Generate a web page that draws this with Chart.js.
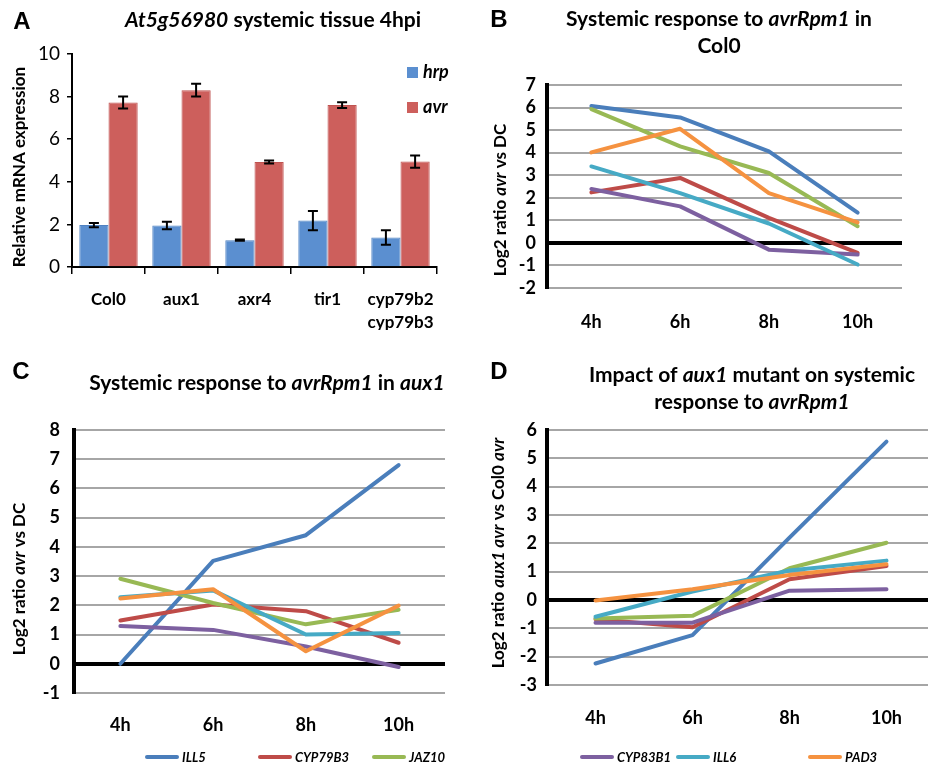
<!DOCTYPE html>
<html>
<head>
<meta charset="utf-8">
<script src="https://cdn.jsdelivr.net/npm/chart.js@4.4.0/dist/chart.umd.min.js"></script>
<style>
body { margin: 0; width: 928px; height: 766px; overflow: hidden; background: #fff; position: relative; }
canvas { position: absolute; }
.item { position: absolute; top: 748px; height: 18px; display: flex; align-items: center; font: italic bold 13px Lato, sans-serif; color: #000; }
.item i { display: inline-block; width: 34px; height: 4px; border-radius: 2px; margin-right: 3px; }
</style>
</head>
<body>
<canvas id="a" width="464" height="330" style="left:0;top:0"></canvas>
<canvas id="b" width="464" height="330" style="left:464px;top:0"></canvas>
<canvas id="c" width="464" height="420" style="left:0;top:330px"></canvas>
<canvas id="d" width="480" height="420" style="left:464px;top:330px"></canvas>
<div id="legend"></div>
<script>
// panel A
const genotypes = ["Col0", "aux1", "axr4", "tir1", ["cyp79b2", "cyp79b3"]];
const hrp = [1.97, 1.95, 1.26, 2.18, 1.39];
const hrpErr = [0.1, 0.18, 0.03, 0.45, 0.34];
const avr = [7.72, 8.3, 4.93, 7.6, 4.95];
const avrErr = [0.28, 0.3, 0.07, 0.13, 0.29];

// panels B-D, rows follow genes order
const times = ["4h", "6h", "8h", "10h"];
const genes = ["ILL5", "CYP79B3", "JAZ10", "CYP83B1", "ILL6", "PAD3"];
const geneColors = ["#4a7ebb", "#be4b48", "#98b954", "#7d60a0", "#46aac5", "#f59240"];

const col0 = [
    [6.07, 5.56, 4.06, 1.34],
    [2.24, 2.88, 1.11, -0.44],
    [5.93, 4.28, 3.1, 0.74],
    [2.39, 1.62, -0.3, -0.52],
    [3.39, 2.21, 0.86, -0.96],
    [4.01, 5.06, 2.21, 0.91]
];
const aux1 = [
    [0, 3.52, 4.4, 6.8],
    [1.48, 2.03, 1.8, 0.72],
    [2.91, 2.08, 1.35, 1.85],
    [1.29, 1.16, 0.59, -0.11],
    [2.28, 2.51, 1.0, 1.05],
    [2.23, 2.55, 0.43, 1.99]
];
const aux1VsCol0 = [
    [-2.24, -1.24, 2.2, 5.59],
    [-0.68, -0.96, 0.73, 1.2],
    [-0.65, -0.56, 1.12, 2.02],
    [-0.8, -0.8, 0.33, 0.38],
    [-0.59, 0.3, 1.04, 1.39],
    [-0.02, 0.38, 0.88, 1.26]
];

const FONT = "Lato, sans-serif";

// titles with italic parts, per canvas
const texts = {
    a: [
        { parts: [["A", 0]], x: 22, y: 22, size: 24, face: "Liberation Sans" },
        { parts: [["At5g56980", 1], [" systemic tissue 4hpi", 0]], x: 273, y: 20, size: 21 },
        { parts: [["Relative mRNA expression", 0]], x: 20, y: 167, size: 17, angle: -Math.PI / 2 }
    ],
    b: [
        { parts: [["B", 0]], x: 35, y: 20, size: 24, face: "Liberation Sans" },
        { parts: [["Systemic response to ", 0], ["avrRpm1", 1], [" in", 0]], x: 255, y: 19, size: 21 },
        { parts: [["Col0", 0]], x: 255, y: 46, size: 21 },
        { parts: [["Log2 ratio ", 0], ["avr", 1], [" vs DC", 0]], x: 37, y: 200, size: 17, angle: -Math.PI / 2 }
    ],
    c: [
        { parts: [["C", 0]], x: 21, y: 42, size: 24, face: "Liberation Sans" },
        { parts: [["Systemic response to ", 0], ["avrRpm1", 1], [" in ", 0], ["aux1", 1]], x: 267, y: 53, size: 21 },
        { parts: [["Log2 ratio ", 0], ["avr", 1], [" vs DC", 0]], x: 20, y: 249, size: 17, angle: -Math.PI / 2 }
    ],
    d: [
        { parts: [["D", 0]], x: 35, y: 42, size: 24, face: "Liberation Sans" },
        { parts: [["Impact of ", 0], ["aux1", 1], [" mutant on systemic", 0]], x: 288, y: 45, size: 21 },
        { parts: [["response to ", 0], ["avrRpm1", 1]], x: 288, y: 72, size: 21 },
        { parts: [["Log2 ratio ", 0], ["aux1 avr", 1], [" vs Col0 ", 0], ["avr", 1]], x: 35, y: 223, size: 17, angle: -Math.PI / 2 }
    ]
};

function rich(ctx, t) {
    const face = t.face || FONT;
    const fontOf = p => (p[1] ? "italic " : "") + "bold " + t.size + "px " + face;
    ctx.save();
    ctx.translate(t.x, t.y);
    if (t.angle) ctx.rotate(t.angle);
    ctx.textBaseline = "middle";
    ctx.fillStyle = "#000";
    let w = 0;
    t.parts.forEach(p => { ctx.font = fontOf(p); w += ctx.measureText(p[0]).width; });
    let cx = -w / 2;
    t.parts.forEach(p => {
        ctx.font = fontOf(p);
        ctx.fillText(p[0], cx, 0);
        cx += ctx.measureText(p[0]).width;
    });
    ctx.restore();
}

const textPlugin = {
    id: "texts",
    afterDraw(chart) {
        (texts[chart.canvas.id] || []).forEach(t => rich(chart.ctx, t));
    }
};

const errorBars = {
    id: "errorBars",
    afterDatasetsDraw(chart) {
        const ctx = chart.ctx;
        const y = chart.scales.y;
        ctx.save();
        ctx.strokeStyle = "#000";
        ctx.lineWidth = 2;
        chart.data.datasets.forEach((ds, i) => {
            chart.getDatasetMeta(i).data.forEach((bar, j) => {
                const top = y.getPixelForValue(ds.data[j] + ds.errors[j]);
                const bot = y.getPixelForValue(ds.data[j] - ds.errors[j]);
                ctx.beginPath();
                ctx.moveTo(bar.x, top); ctx.lineTo(bar.x, bot);
                ctx.moveTo(bar.x - 5, top); ctx.lineTo(bar.x + 5, top);
                ctx.moveTo(bar.x - 5, bot); ctx.lineTo(bar.x + 5, bot);
                ctx.stroke();
            });
        });
        // legend
        ctx.fillStyle = "#5b8fd0";
        ctx.fillRect(407, 67, 11, 11);
        ctx.fillStyle = "#cd5f5c";
        ctx.fillRect(407, 102, 11, 11);
        ctx.fillStyle = "#000";
        ctx.textBaseline = "middle";
        ctx.font = "italic bold 18px " + FONT;
        ctx.fillText("hrp", 423, 72);
        ctx.fillText("avr", 423, 107);
        ctx.restore();
    }
};

new Chart(document.getElementById("a"), {
    type: "bar",
    data: {
        labels: genotypes,
        datasets: [
            { label: "hrp", data: hrp, errors: hrpErr, backgroundColor: "#5b8fd0", borderColor: "#4f82c2", borderWidth: 1 },
            { label: "avr", data: avr, errors: avrErr, backgroundColor: "#cd5f5c", borderColor: "#bf5350", borderWidth: 1 }
        ]
    },
    options: {
        responsive: false,
        animation: false,
        layout: { padding: { left: 0, top: 54, right: 27, bottom: 0 } },
        datasets: { bar: { categoryPercentage: 0.8, barPercentage: 1.0 } },
        scales: {
            x: {
                afterFit: s => { s.height = 63; },
                grid: { drawOnChartArea: false, tickLength: 7, color: "#000", lineWidth: 1.5 },
                border: { color: "#000", width: 2 },
                ticks: { color: "#000", padding: 14, font: { family: FONT, size: 17, weight: "bold", lineHeight: 1.35 } }
            },
            y: {
                min: 0, max: 10,
                afterFit: s => { s.width = 72; },
                ticks: { stepSize: 2, color: "#000", padding: 7, font: { family: FONT, size: 19 } },
                grid: { drawOnChartArea: false, tickLength: 5, color: "#000", lineWidth: 1.5 },
                border: { color: "#000", width: 2 }
            }
        },
        plugins: { legend: { display: false }, tooltip: { enabled: false } }
    },
    plugins: [errorBars, textPlugin]
});

function lineChart(id, rows, yMin, yMax, pad, yWidth, xHeight, yPad, xPad) {
    new Chart(document.getElementById(id), {
        type: "line",
        data: {
            labels: times,
            datasets: genes.map((g, i) => ({
                label: g,
                data: rows[i],
                borderColor: geneColors[i],
                backgroundColor: geneColors[i],
                borderWidth: 4,
                pointRadius: 0,
                borderCapStyle: "round",
                borderJoinStyle: "round",
                order: genes.length - i
            }))
        },
        options: {
            responsive: false,
            animation: false,
            layout: { padding: pad },
            scales: {
                x: {
                    offset: true,
                    afterFit: s => { s.height = xHeight; },
                    grid: { display: false },
                    border: { display: false },
                    ticks: { color: "#000", padding: xPad, font: { family: FONT, size: 18, weight: "bold" } }
                },
                y: {
                    min: yMin, max: yMax,
                    afterFit: s => { s.width = yWidth; },
                    ticks: { stepSize: 1, autoSkip: false, color: "#000", padding: yPad, font: { family: FONT, size: 18, weight: "bold" } },
                    grid: {
                        drawTicks: false,
                        color: c => c.tick.value === 0 ? "#000" : "#a6a6a6",
                        lineWidth: c => c.tick.value === 0 ? 4 : 2
                    },
                    border: { color: "#000", width: 4 }
                }
            },
            plugins: { legend: { display: false }, tooltip: { enabled: false } }
        },
        plugins: [textPlugin]
    });
}

lineChart("b", col0, -2, 7, { left: 0, top: 85, right: 26, bottom: 0 }, 83, 42, 11, 15);
lineChart("c", aux1, -1, 8, { left: 0, top: 100, right: 19, bottom: 0 }, 74, 57, 14, 13);
lineChart("d", aux1VsCol0, -3, 6, { left: 0, top: 100, right: 9, bottom: 0 }, 83, 65, 10, 14);

// shared legend under C and D
const legendLeft = [145, 258, 372, 580, 676, 808];
const legend = document.getElementById("legend");
genes.forEach((g, i) => {
    const item = document.createElement("div");
    item.className = "item";
    item.style.left = legendLeft[i] + "px";
    item.innerHTML = '<i style="background:' + geneColors[i] + '"></i>' + g;
    legend.appendChild(item);
});
</script>
</body>
</html>
